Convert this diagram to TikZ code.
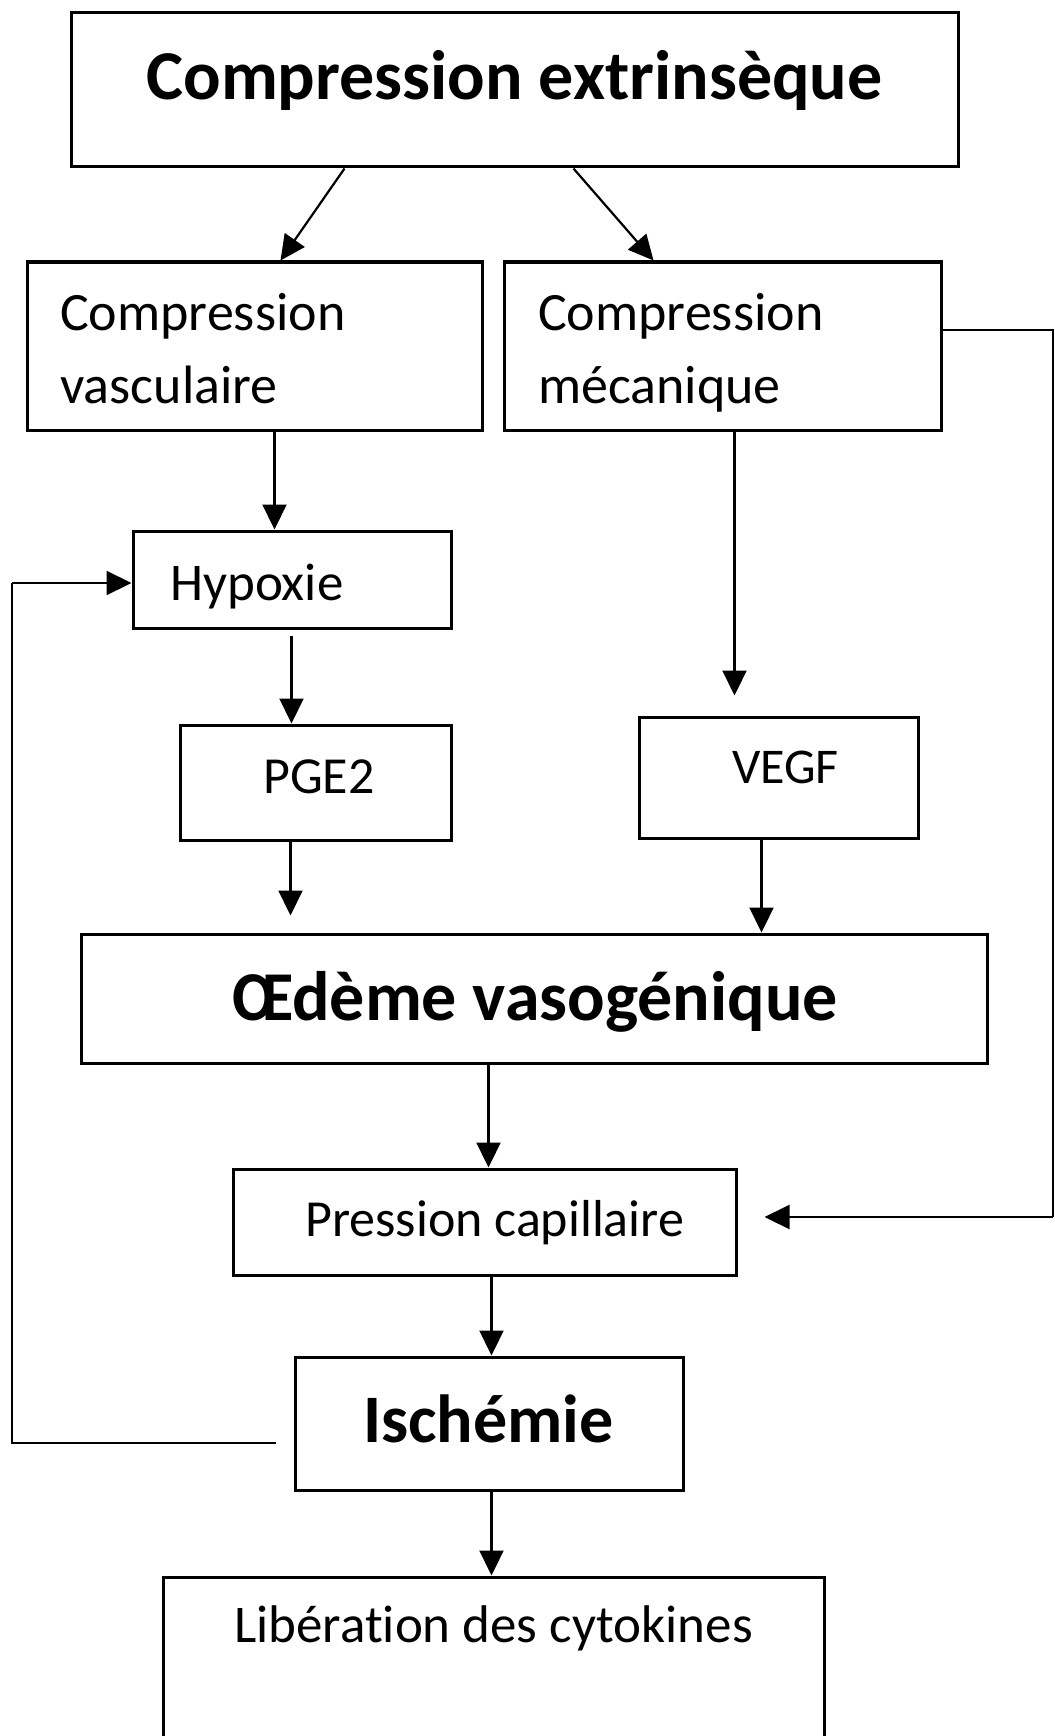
\documentclass[tikz,border=0pt]{standalone}
\usepackage{fontspec}
\setmainfont{Carlito}[Ligatures=NoCommon]
\usetikzlibrary{arrows.meta}

\tikzset{
  boite/.style={draw, line width=3pt, inner sep=0pt},
  fleche/.style={line width=2.2pt, -{Triangle[length=25pt,width=24pt]}},
  ligne/.style={line width=2.2pt},
  texte/.style={anchor=base west, inner sep=0pt, align=left}
}

\begin{document}
\begin{tikzpicture}[x=1pt,y=-1pt] %Schema de la compression extrinseque
        \path[use as bounding box, clip] (0,0) rectangle (1054,1736);

        % boites
        \node[boite, minimum width=887pt, minimum height=154pt] (ce) at (514.5,90) {};
        \node[boite, minimum width=455pt, minimum height=168pt] (cv) at (254.5,346) {};
        \node[boite, minimum width=437pt, minimum height=168pt] (cm) at (722.5,346) {};
        \node[boite, minimum width=318pt, minimum height=97pt] (hyp) at (292,579.5) {};
        \node[boite, minimum width=271pt, minimum height=115pt] (pge) at (315.5,782.5) {};
        \node[boite, minimum width=279pt, minimum height=121pt] (vegf) at (778.5,777.5) {};
        \node[boite, minimum width=906pt, minimum height=129pt] (oed) at (534,998.5) {};
        \node[boite, minimum width=503pt, minimum height=106pt] (pc) at (484.5,1222) {};
        \node[boite, minimum width=388pt, minimum height=133pt] (isc) at (489,1423.5) {};
        \node[boite, minimum width=661pt, minimum height=223pt] (lib) at (493.5,1688.5) {};

        % textes
        \node[anchor=base, inner sep=0pt, font=\fontsize{70}{84}\selectfont\bfseries] (cet) at (514.5,100) {Compression extrinsèque};
        \node[texte, font=\fontsize{54}{73}\selectfont] (cvt) at (60,403) {Compression\\vasculaire};
        \node[texte, font=\fontsize{54}{73}\selectfont] (cmt) at (538,403) {Compression\\mécanique};
        \node[texte, font=\fontsize{53}{64}\selectfont] (hypt) at (170,600) {Hypoxie};
        \node[texte, font=\fontsize{52}{62}\selectfont] (pget) at (263,793) {PGE2};
        \node[texte, font=\fontsize{50}{60}\selectfont] (vegft) at (732,783) {VEGF};
        \node[anchor=base, inner sep=0pt, font=\fontsize{70}{84}\selectfont\bfseries] (oedt) at (535,1020) {Œdème vasogénique};
        \node[texte, font=\fontsize{52}{62}\selectfont] (pct) at (305,1236) {Pression capillaire};
        \node[texte, font=\fontsize{68}{80}\selectfont\bfseries] (isct) at (363,1442) {Ischémie};
        \node[texte, font=\fontsize{53}{64}\selectfont] (libt) at (234,1642) {Libération des cytokines};

        % coins des retours
        \coordinate (re1) at (1053,330);
        \coordinate (re2) at (1053,1217);
        \coordinate (le1) at (12,1443);
        \coordinate (le2) at (12,583);

        % fleches
        \draw[fleche] ([xshift=275pt]ce.south west) -- ([xshift=255pt]cv.north west);
        \draw[fleche] ([xshift=504pt]ce.south west) -- ([xshift=151pt]cm.north west);
        \draw[fleche] ([xshift=249pt]cv.south west) -- ([xshift=143pt]hyp.north west);
        \draw[fleche] ([xshift=160pt,yshift=-6pt]hyp.south west) -- ([xshift=113pt]pge.north west);
        \draw[fleche] ([xshift=112pt]pge.south west) -- ([xshift=211pt,yshift=17pt]oed.north west);
        \draw[fleche] ([xshift=232pt]cm.south west) -- ([xshift=97pt,yshift=20pt]vegf.north west);
        \draw[fleche] ([xshift=124pt]vegf.south west) -- ([xshift=682pt]oed.north west);
        \draw[fleche] ([xshift=409pt]oed.south west) -- ([xshift=257pt]pc.north west);
        \draw[fleche] ([xshift=260pt]pc.south west) -- ([xshift=198pt]isc.north west);
        \draw[fleche] ([xshift=198pt]isc.south west) -- ([xshift=330pt]lib.north west);

        % retours
        \draw[ligne] ([yshift=16pt]cm.east) -- (re1) -- (re2);
        \draw[fleche] (re2) -- ([xshift=27pt,yshift=5pt]pc.east);
        \draw[ligne] ([xshift=-18pt,yshift=-19.5pt]isc.west) -- (le1) -- (le2);
        \draw[fleche] (le2) -- ([yshift=-3.5pt]hyp.west);
    \end{tikzpicture}
\end{document}
